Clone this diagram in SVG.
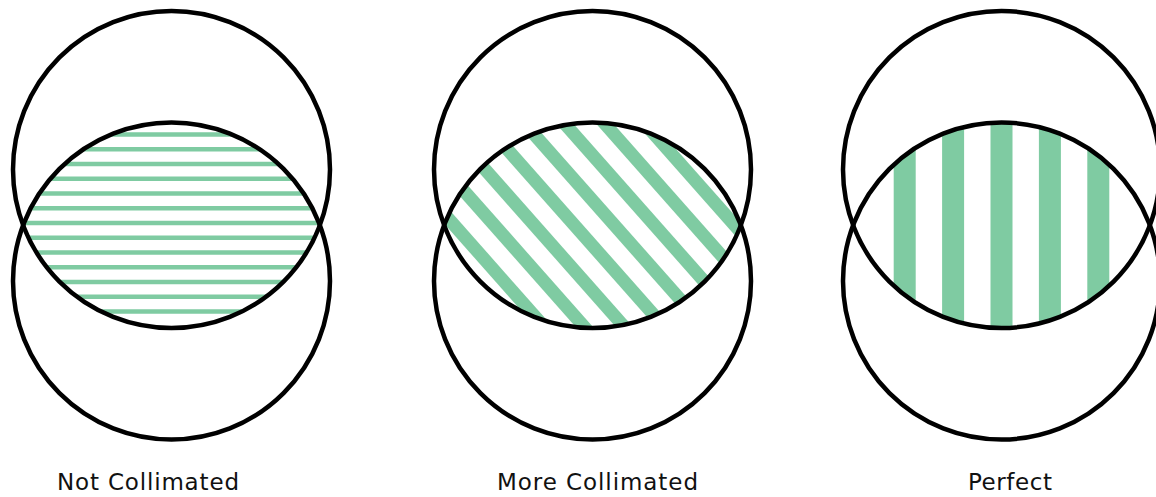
<svg xmlns="http://www.w3.org/2000/svg" width="1156" height="497" viewBox="0 0 1156 497">
  <style>
    .ring { fill: none; stroke: #000; stroke-width: 4.5; }
    .stripe { fill: #7fcba2; }
    .label { font-family: "DejaVu Sans", "Liberation Sans", Arial, sans-serif; font-size: 23px; fill: #111; }
  </style>
  <defs>
    <clipPath id="lens" clipPathUnits="userSpaceOnUse">
      <path d="M -148.4 225.25 A 158.5 158.5 0 0 1 148.4 225.25 A 158.5 158.5 0 0 1 -148.4 225.25 Z"/>
    </clipPath>
  </defs>
  <rect width="1156" height="497" fill="#fff"/>

  <g id="not-collimated" transform="translate(171.5 0)">
    <g clip-path="url(#lens)">
      <rect class="stripe" x="-160" y="132.25" width="320" height="4.5"/>
      <rect class="stripe" x="-160" y="147" width="320" height="4.5"/>
      <rect class="stripe" x="-160" y="161.75" width="320" height="4.5"/>
      <rect class="stripe" x="-160" y="176.5" width="320" height="4.5"/>
      <rect class="stripe" x="-160" y="191.25" width="320" height="4.5"/>
      <rect class="stripe" x="-160" y="206" width="320" height="4.5"/>
      <rect class="stripe" x="-160" y="220.75" width="320" height="4.5"/>
      <rect class="stripe" x="-160" y="235.5" width="320" height="4.5"/>
      <rect class="stripe" x="-160" y="250.25" width="320" height="4.5"/>
      <rect class="stripe" x="-160" y="265" width="320" height="4.5"/>
      <rect class="stripe" x="-160" y="279.75" width="320" height="4.5"/>
      <rect class="stripe" x="-160" y="294.5" width="320" height="4.5"/>
      <rect class="stripe" x="-160" y="309.25" width="320" height="4.5"/>
    </g>
    <circle class="ring" cx="0" cy="169.5" r="158.5"/>
    <circle class="ring" cx="0" cy="281" r="158.5"/>
  </g>

  <g id="more-collimated" transform="translate(592.5 0)">
    <g clip-path="url(#lens)">
      <g transform="translate(0 225.25) rotate(48.5)">
        <rect class="stripe" x="-250" y="-203" width="500" height="13"/>
        <rect class="stripe" x="-250" y="-173" width="500" height="13"/>
        <rect class="stripe" x="-250" y="-143" width="500" height="13"/>
        <rect class="stripe" x="-250" y="-113" width="500" height="13"/>
        <rect class="stripe" x="-250" y="-83" width="500" height="13"/>
        <rect class="stripe" x="-250" y="-53" width="500" height="13"/>
        <rect class="stripe" x="-250" y="-23" width="500" height="13"/>
        <rect class="stripe" x="-250" y="7" width="500" height="13"/>
        <rect class="stripe" x="-250" y="37" width="500" height="13"/>
        <rect class="stripe" x="-250" y="67" width="500" height="13"/>
        <rect class="stripe" x="-250" y="97" width="500" height="13"/>
        <rect class="stripe" x="-250" y="127" width="500" height="13"/>
        <rect class="stripe" x="-250" y="157" width="500" height="13"/>
      </g>
    </g>
    <circle class="ring" cx="0" cy="169.5" r="158.5"/>
    <circle class="ring" cx="0" cy="281" r="158.5"/>
  </g>

  <g id="perfect" transform="translate(1001.5 0)">
    <g clip-path="url(#lens)">
      <rect class="stripe" x="-107.8" y="100" width="22" height="260"/>
      <rect class="stripe" x="-59.4" y="100" width="22" height="260"/>
      <rect class="stripe" x="-11" y="100" width="22" height="260"/>
      <rect class="stripe" x="37.4" y="100" width="22" height="260"/>
      <rect class="stripe" x="85.8" y="100" width="22" height="260"/>
    </g>
    <circle class="ring" cx="0" cy="169.5" r="158.5"/>
    <circle class="ring" cx="0" cy="281" r="158.5"/>
  </g>

  <g id="labels">
    <text class="label" x="57" y="489.5" textLength="182" lengthAdjust="spacing">Not Collimated</text>
    <text class="label" x="497" y="489.5" textLength="201" lengthAdjust="spacing">More Collimated</text>
    <text class="label" x="968" y="489.5" textLength="84" lengthAdjust="spacing">Perfect</text>
  </g>
</svg>
